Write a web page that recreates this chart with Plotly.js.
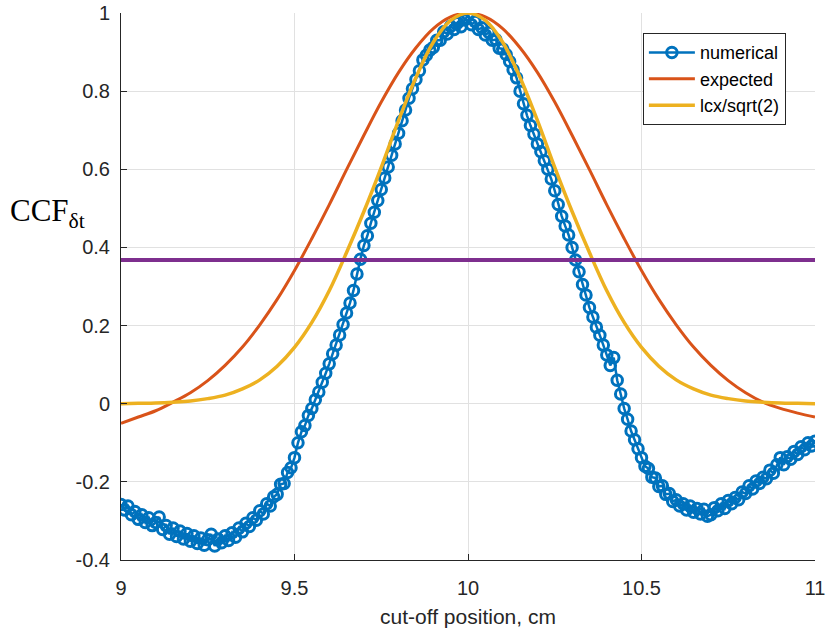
<!DOCTYPE html>
<html>
<head>
<meta charset="utf-8">
<script src="https://cdn.plot.ly/plotly-3.0.1.min.js"></script>
<style>html,body{margin:0;padding:0;background:#fff;}#chart{width:826px;height:633px;}</style>
</head>
<body>
<div id="chart"></div>
<script>
// numerical CCF (step 0.01 cm)
const numX = [];
for (let i = 0; i <= 200; i++) numX.push(+(9 + i * 0.01).toFixed(2));
const numY = [
-0.258,-0.272,-0.262,-0.284,-0.276,-0.296,-0.284,-0.304,-0.292,-0.312,
-0.304,-0.290,-0.322,-0.312,-0.334,-0.318,-0.340,-0.326,-0.346,-0.332,
-0.352,-0.338,-0.358,-0.344,-0.362,-0.348,-0.334,-0.364,-0.346,-0.356,
-0.338,-0.350,-0.330,-0.342,-0.318,-0.328,-0.306,-0.314,-0.292,-0.298,
-0.274,-0.282,-0.256,-0.262,-0.238,-0.232,-0.206,-0.204,-0.176,-0.164,
-0.138,-0.100,-0.072,-0.056,-0.030,-0.012,0.010,0.030,0.055,0.078,
0.102,0.128,0.150,0.176,0.203,0.232,0.258,0.290,0.332,0.370,
0.405,0.430,0.462,0.490,0.520,0.548,0.578,0.606,0.636,0.665,
0.692,0.724,0.752,0.782,0.806,0.830,0.852,0.880,0.892,0.905,
0.912,0.930,0.930,0.952,0.946,0.966,0.958,0.975,0.965,0.982,
0.995,0.970,0.978,0.958,0.962,0.944,0.950,0.930,0.932,0.910,
0.908,0.894,0.876,0.855,0.834,0.800,0.768,0.738,0.712,0.690,
0.665,0.645,0.622,0.600,0.575,0.545,0.510,0.480,0.455,0.432,
0.400,0.368,0.338,0.305,0.278,0.246,0.222,0.196,0.175,0.150,
0.125,0.098,0.118,0.060,0.025,-0.012,-0.040,-0.070,-0.092,-0.115,
-0.138,-0.160,-0.166,-0.188,-0.190,-0.212,-0.210,-0.232,-0.230,-0.250,
-0.246,-0.262,-0.256,-0.272,-0.262,-0.278,-0.268,-0.282,-0.270,-0.288,
-0.284,-0.266,-0.274,-0.256,-0.268,-0.248,-0.256,-0.240,-0.246,-0.226,
-0.230,-0.210,-0.218,-0.198,-0.204,-0.188,-0.192,-0.170,-0.178,-0.156,
-0.138,-0.156,-0.136,-0.142,-0.122,-0.130,-0.110,-0.118,-0.100,-0.108,
-0.096
];

// expected and lcx/sqrt(2) curves (read at 0.05 cm steps)
const curveX = [];
for (let i = 0; i <= 40; i++) curveX.push(+(9 + i * 0.05).toFixed(2));
const expectedY = [
-0.050,-0.034,-0.018,0.004,0.028,0.059,0.098,0.145,0.202,0.267,
0.341,0.423,0.509,0.599,0.687,0.772,0.848,0.911,0.960,0.990,
1.000,
0.990,0.960,0.911,0.848,0.772,0.687,0.599,0.509,0.423,0.341,
0.267,0.202,0.145,0.098,0.059,0.028,0.004,-0.012,-0.024,-0.034
];
const lcxY = [
0.000,0.001,0.002,0.004,0.007,0.013,0.022,0.038,0.061,0.096,
0.144,0.208,0.289,0.387,0.492,0.605,0.725,0.835,0.925,0.981,
1.000,
0.981,0.925,0.835,0.725,0.605,0.492,0.387,0.289,0.208,0.144,
0.096,0.061,0.038,0.022,0.013,0.007,0.004,0.002,0.001,0.000
];

// 1/e level line
const levelX = [9, 11];
const levelY = [0.368, 0.368];

// tick labels
const xTickVals = [9, 9.5, 10, 10.5, 11];
const xTickText = ["9", "9.5", "10", "10.5", "11"];
const yTickVals = [-0.4, -0.2, 0, 0.2, 0.4, 0.6, 0.8, 1];
const yTickText = ["-0.4", "-0.2", "0", "0.2", "0.4", "0.6", "0.8", "1"];

const traces = [
  {x: numX, y: numY, type: 'scatter', mode: 'lines+markers', name: 'numerical',
   line: {color: '#0072BD', width: 2.5},
   marker: {symbol: 'circle-open', size: 10.5, color: '#0072BD', line: {width: 3, color: '#0072BD'}}},
  {x: curveX, y: expectedY, type: 'scatter', mode: 'lines', name: 'expected',
   line: {color: '#D95319', width: 3, shape: 'spline'}},
  {x: curveX, y: lcxY, type: 'scatter', mode: 'lines', name: 'lcx/sqrt(2)',
   line: {color: '#EDB120', width: 3.5, shape: 'spline'}},
  {x: levelX, y: levelY, type: 'scatter', mode: 'lines', showlegend: false,
   line: {color: '#7E2F8E', width: 4}, hoverinfo: 'skip'}
];

const axisCommon = {
  showline: true, linecolor: '#262626', linewidth: 1,
  ticks: 'inside', ticklen: 6, tickcolor: '#262626', tickwidth: 1,
  showgrid: true, gridcolor: '#e1e1e1', gridwidth: 1,
  zeroline: false, mirror: false,
  tickfont: {family: 'Liberation Sans, Arial, sans-serif', size: 20, color: '#262626'}
};

const layout = {
  width: 826, height: 633,
  margin: {l: 121, r: 11, t: 13, b: 73},
  paper_bgcolor: '#fff', plot_bgcolor: '#fff',
  showlegend: true,
  xaxis: Object.assign({}, axisCommon, {
    range: [9, 11], tickvals: xTickVals, ticktext: xTickText,
    ticklabelstandoff: 10,
    title: {text: 'cut-off position, cm', standoff: 11,
            font: {family: 'Liberation Sans, Arial, sans-serif', size: 21, color: '#262626'}}
  }),
  yaxis: Object.assign({}, axisCommon, {
    range: [-0.4, 1], tickvals: yTickVals, ticktext: yTickText,
    ticklabelstandoff: 6
  }),
  legend: {
    x: 0.752, y: 0.963, xanchor: 'left', yanchor: 'top',
    bgcolor: '#fff', bordercolor: '#262626', borderwidth: 1,
    font: {family: 'Liberation Sans, Arial, sans-serif', size: 18, color: '#000'},
    itemwidth: 46, tracegroupgap: 0
  },
  annotations: [{
    xref: 'paper', yref: 'paper', x: -0.106, y: 0.6345, xanchor: 'center', yanchor: 'middle',
    showarrow: false, text: 'CCF<sub>δt</sub>',
    font: {family: 'Liberation Serif, Times New Roman, serif', size: 31, color: '#000'}
  }]
};

Plotly.newPlot('chart', traces, layout, {displayModeBar: false, staticPlot: true});
</script>
</body>
</html>
